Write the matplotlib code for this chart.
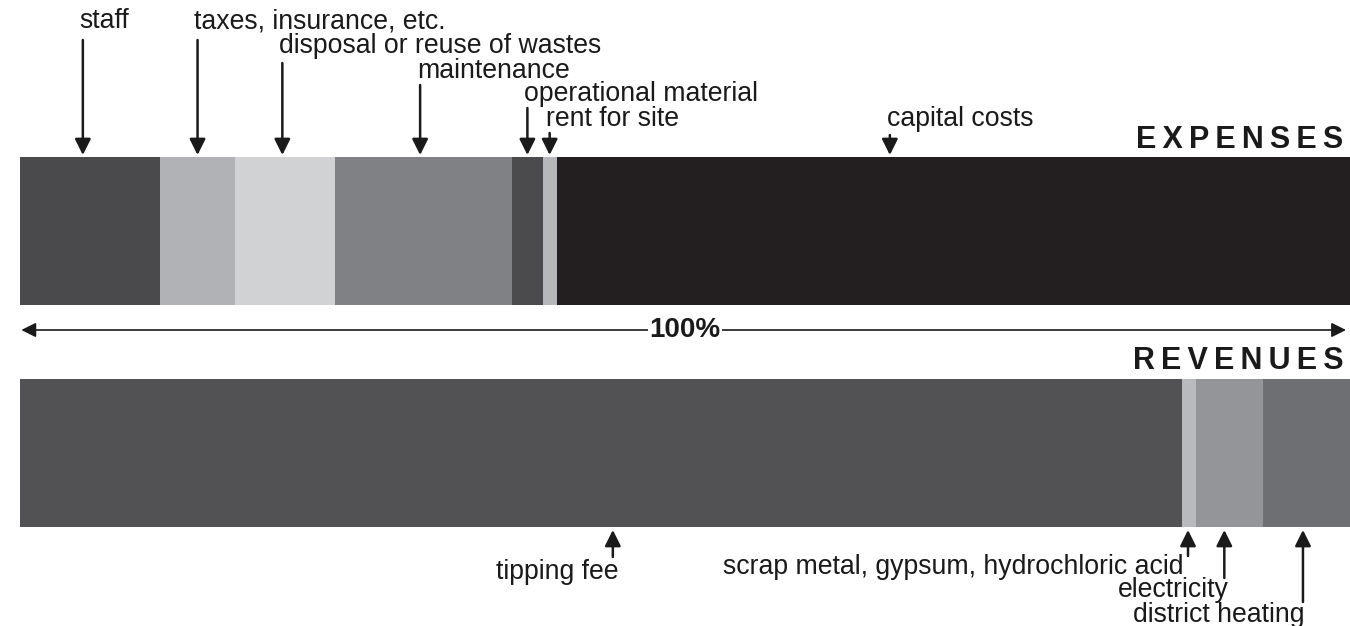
import numpy as np
import matplotlib
matplotlib.use('Agg')
import matplotlib.pyplot as plt

plt.rcParams['font.family'] = ['Liberation Sans', 'DejaVu Sans']

# Data: shares of total (%)
expense_labels = ['staff', 'taxes, insurance, etc.', 'disposal or reuse of wastes',
                  'maintenance', 'operational material', 'rent for site', 'capital costs']
expense_shares = [10.5, 5.7, 7.5, 13.3, 2.3, 1.05, 59.65]
revenue_labels = ['tipping fee', 'scrap metal, gypsum, hydrochloric acid',
                  'electricity', 'district heating']
revenue_shares = [87.4, 1.05, 5.0, 6.55]

# Styling
expense_colors = ['#4a4a4c', '#b1b2b5', '#d1d2d4', '#808184', '#4b4b4d', '#b6b7ba', '#231f20']
revenue_colors = ['#525254', '#b9babd', '#949598', '#6e6f72']
exp_pointer = [0.45, 0.5, 0.47, 0.48, 0.5, 0.5, 0.42]   # arrow position within segment
exp_tail_y = [40, 40, 63, 85, 108, 133, 135]
exp_text_y = [21, 21, 46, 71, 94, 119, 119]
rev_pointer = [0.51, 0.4, 0.42, 0.46]
rev_tail_y = [557, 556, 578, 602]
rev_text_y = [572, 567, 590, 615]
rev_text_dx = [0.45, -0.35, 0.3, 0.15]
label_size = 19.2

fig = plt.figure(figsize=(13.5, 6.26), dpi=100)
ax = fig.add_axes([0, 0, 1, 1])
ax.set_xlim(-20 / 13.3, 100)
ax.set_ylim(626, 0)
ax.axis('off')

exp_top, exp_bot = 157, 305
rev_top, rev_bot = 379, 527

arrow = dict(arrowstyle='-|>', color='#1a1a1a', lw=1.8, mutation_scale=24, shrinkA=0, shrinkB=0)

# Expenses bar
left = np.concatenate([[0], np.cumsum(expense_shares)[:-1]])
ax.barh((exp_top + exp_bot) / 2, expense_shares, left=left, height=exp_bot - exp_top,
        color=expense_colors, edgecolor='none')
for i, lab in enumerate(expense_labels):
    x = left[i] + expense_shares[i] * exp_pointer[i]
    ax.annotate('', xy=(x, exp_top - 2), xytext=(x, exp_tail_y[i]), arrowprops=arrow)
    ax.text(x - 0.25, exp_text_y[i], lab, ha='left', va='center', fontsize=label_size,
            color='#1a1a1a')

# Revenues bar
left_r = np.concatenate([[0], np.cumsum(revenue_shares)[:-1]])
ax.barh((rev_top + rev_bot) / 2, revenue_shares, left=left_r, height=rev_bot - rev_top,
        color=revenue_colors, edgecolor='none')
for i, lab in enumerate(revenue_labels):
    x = left_r[i] + revenue_shares[i] * rev_pointer[i]
    ax.annotate('', xy=(x, rev_bot + 3), xytext=(x, rev_tail_y[i]), arrowprops=arrow)
    ax.text(x + rev_text_dx[i], rev_text_y[i], lab, ha='right', va='center',
            fontsize=label_size, color='#1a1a1a')

# Headings (thin spaces for the wide letter spacing)
ts = '\u2009'
ax.text(100 - 0.5, 140, ts.join('EXPENSES'), ha='right', va='center', fontsize=22,
        fontweight='bold', color='#1a1a1a')
ax.text(100 - 0.5, 361, ts.join('REVENUES'), ha='right', va='center', fontsize=22,
        fontweight='bold', color='#1a1a1a')

# 100% span
ax.annotate('', xy=(0.1, 330), xytext=(99.7, 330),
            arrowprops=dict(arrowstyle='<|-|>', color='#1a1a1a', lw=1.2, mutation_scale=22,
                            shrinkA=0, shrinkB=0))
ax.text(50, 330, '100%', ha='center', va='center', fontsize=20, fontweight='bold',
        color='#1a1a1a', bbox=dict(facecolor='white', edgecolor='none', pad=1))

plt.savefig('out.png', dpi=100)
